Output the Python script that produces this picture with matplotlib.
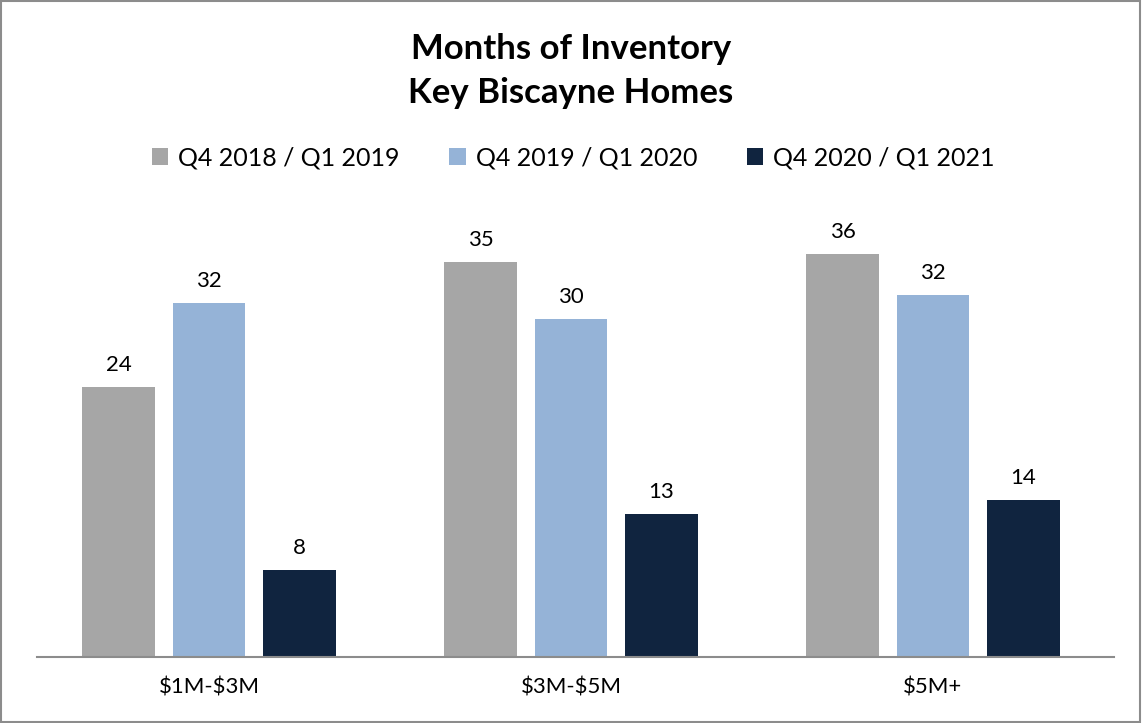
import numpy as np
import matplotlib
matplotlib.use("Agg")
import matplotlib.pyplot as plt
from matplotlib.patches import Rectangle

plt.rcParams["font.family"] = ["Lato", "DejaVu Sans"]
plt.rcParams["text.parse_math"] = False

categories = ["$1M-$3M", "$3M-$5M", "$5M+"]
series_names = ["Q4 2018 / Q1 2019", "Q4 2019 / Q1 2020", "Q4 2020 / Q1 2021"]
# bar heights; labels show them rounded
q4_2018 = [24.1, 35.3, 36.0]
q4_2019 = [31.6, 30.2, 32.3]
q4_2020 = [7.8, 12.8, 14.0]
colors = ["#a6a6a6", "#95b3d7", "#10243f"]

fig = plt.figure(figsize=(11.42, 7.23), dpi=100)
ax = fig.add_axes([0.0245, 0.0913, 0.951, 0.6197])

x = np.arange(len(categories))
width = 0.2
offsets = [-0.25, 0.0, 0.25]
for values, name, color, off in zip([q4_2018, q4_2019, q4_2020], series_names, colors, offsets):
    bars = ax.bar(x + off, values, width, color=color, label=name, zorder=2)
    for bar, v in zip(bars, values):
        ax.annotate(f"{v:.0f}", (bar.get_x() + bar.get_width() / 2, v),
                    xytext=(0, 8.5), textcoords="offset points",
                    ha="center", va="bottom", fontsize=16)

ax.set_xlim(-0.5, len(categories) - 0.5)
ax.set_ylim(0, 40)
ax.set_xticks(x)
ax.set_xticklabels(categories, fontsize=16)
ax.tick_params(axis="x", length=0, pad=15)
ax.set_yticks([])
for side in ["top", "left", "right"]:
    ax.spines[side].set_visible(False)
ax.spines["bottom"].set_color("#8c8c8c")
ax.spines["bottom"].set_linewidth(1.5)
ax.spines["bottom"].set_bounds(-0.475, 2.5)

fig.text(0.5, 0.932, "Months of Inventory", ha="center", va="center",
         fontsize=25, fontweight="bold")
fig.text(0.5, 0.872, "Key Biscayne Homes", ha="center", va="center",
         fontsize=25, fontweight="bold")

fig.legend(loc="center", bbox_to_anchor=(0.502, 0.782), ncol=3, frameon=False,
           fontsize=18, handlelength=0.65, handleheight=0.65, columnspacing=2.0,
           handletextpad=0.4)

fig.patches.append(Rectangle((0.001, 0.001), 0.997, 0.997, transform=fig.transFigure,
                             fill=False, edgecolor="#8c8c8c", linewidth=1.5))

fig.savefig("out.png", dpi=100)
